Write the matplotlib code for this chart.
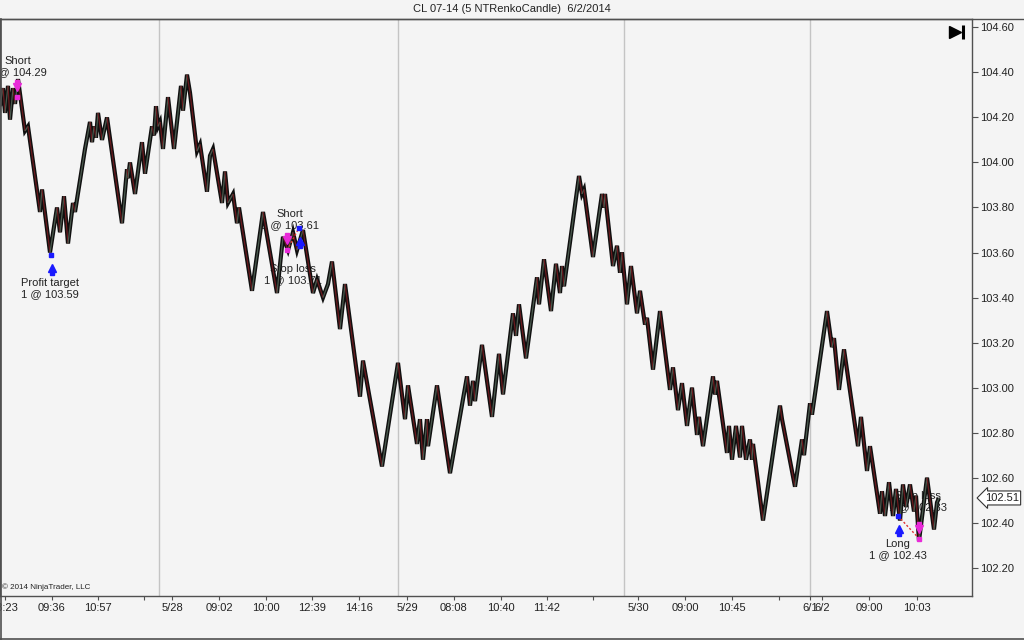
import numpy as np
import matplotlib
matplotlib.use("Agg")
import matplotlib.pyplot as plt
from matplotlib.collections import LineCollection
from matplotlib.lines import Line2D
import matplotlib.transforms as mtransforms

plt.rcParams['font.family'] = ['Liberation Sans', 'DejaVu Sans']

# renko swing points (bar index, price)
bars = [0, 3, 5, 8, 10, 13, 15, 18, 25, 28, 40, 42, 50, 57, 60, 64, 68, 73, 75, 85,
        90, 92, 94, 96, 98, 102, 107, 122, 127, 128, 130, 135, 142, 145, 152, 154, 156, 158, 160, 163,
        168, 174, 181, 183, 187, 190, 197, 200, 207, 210, 213, 222, 225, 228, 233, 237, 239, 252, 263, 277,
        283, 288, 293, 297, 303, 313, 317, 323, 328, 332, 340, 345, 360, 363, 382, 398, 405, 408, 417, 420,
        423, 427, 428, 437, 450, 467, 470, 473, 475, 482, 492, 499, 503, 513, 516, 519, 526, 537, 539, 544,
        551, 556, 560, 562, 564, 579, 582, 584, 593, 602, 604, 605, 613, 617, 620, 622, 627, 631, 637, 640,
        645, 647, 653, 660, 670, 673, 678, 682, 687, 692, 697, 699, 703, 713, 715, 717, 727, 729, 732, 736,
        740, 742, 746, 750, 752, 753, 763, 780, 782, 795, 802, 804, 810, 812, 827, 832, 834, 839, 844, 858,
        861, 867, 870, 880, 882, 885, 889, 893, 896, 900, 903, 906, 910, 914, 916, 919, 927, 934, 937, 939]
prices = [104.25, 104.33, 104.22, 104.34, 104.19, 104.33, 104.26, 104.37, 104.14, 104.16, 103.78, 103.88, 103.60, 103.80, 103.69, 103.85, 103.64, 103.82, 103.78, 104.06,
          104.18, 104.09, 104.16, 104.11, 104.22, 104.10, 104.20, 103.73, 103.97, 103.93, 104.00, 103.86, 104.09, 103.95, 104.16, 104.12, 104.25, 104.16, 104.18, 104.06,
          104.29, 104.06, 104.34, 104.23, 104.39, 104.31, 104.05, 104.08, 103.87, 104.03, 104.06, 103.82, 103.96, 103.82, 103.86, 103.73, 103.80, 103.43, 103.78, 103.42,
          103.67, 103.61, 103.69, 103.61, 103.70, 103.42, 103.48, 103.40, 103.46, 103.56, 103.26, 103.46, 102.96, 103.12, 102.65, 103.11, 102.86, 103.01, 102.75, 102.86,
          102.68, 102.86, 102.74, 103.01, 102.62, 103.05, 102.92, 103.03, 102.94, 103.19, 102.87, 103.15, 102.97, 103.33, 103.23, 103.37, 103.13, 103.49, 103.37, 103.57,
          103.34, 103.55, 103.42, 103.54, 103.45, 103.94, 103.86, 103.88, 103.58, 103.86, 103.80, 103.86, 103.54, 103.63, 103.51, 103.60, 103.37, 103.54, 103.33, 103.43,
          103.28, 103.31, 103.08, 103.34, 102.99, 103.09, 102.90, 103.02, 102.83, 103.00, 102.79, 102.87, 102.74, 103.05, 102.97, 103.03, 102.71, 102.83, 102.68, 102.83,
          102.69, 102.83, 102.68, 102.77, 102.68, 102.75, 102.41, 102.92, 102.86, 102.56, 102.77, 102.70, 102.93, 102.88, 103.34, 103.18, 103.22, 102.99, 103.17, 102.74,
          102.87, 102.63, 102.74, 102.44, 102.54, 102.43, 102.58, 102.43, 102.55, 102.41, 102.57, 102.47, 102.57, 102.45, 102.52, 102.32, 102.60, 102.37, 102.49, 102.51]

last_price = 102.51

# time axis labels
tick_bars = [5, 52, 98, 144, 172, 219, 266, 312, 359, 407, 454, 501, 547, 593, 638,
             685, 732, 779, 810, 822, 869, 917]
tick_labels = ["08:23", "09:36", "10:57", "", "5/28", "09:02", "10:00", "12:39", "14:16", "5/29",
               "08:08", "10:40", "11:42", "", "5/30", "09:00", "10:45", "", "6/1", "6/2", "09:00", "10:03"]
session_breaks = [159, 398, 624, 810]

price_ticks = [102.20, 102.40, 102.60, 102.80, 103.00, 103.20, 103.40, 103.60, 103.80, 104.00, 104.20, 104.40, 104.60]

# executions
exec_bars = [17, 51, 287, 299, 898, 919]
exec_prices = [104.29, 103.59, 103.61, 103.71, 102.43, 102.33]
exec_sides = ["sell", "buy", "sell", "buy", "buy", "sell"]
exec_labels = ["Short\n1 @ 104.29", "Profit target\n1 @ 103.59", "Short\n1 @ 103.61",
               "Stop loss\n1 @ 103.71", "Long\n1 @ 102.43", "Stop loss\n1 @ 102.33"]
label_offsets = [(1, 31), (-1, -34), (3, 31), (-6, -47), (0, -34), (-1, 37)]
losing_trades = [(2, 3), (4, 5)]

BG = '#f4f4f4'
TXT = '#222222'
FRAME = '#505050'

fig = plt.figure(figsize=(10.24, 6.4), dpi=100, facecolor=BG)
ax = fig.add_axes([0, 44.3 / 640, 972 / 1024, 576.7 / 640])
ax.set_facecolor(BG)
ax.set_xlim(0, 972)
ax.set_ylim(102.076, 104.637)

for s in ax.spines.values():
    s.set_color(FRAME)
    s.set_linewidth(1.0)

for xb in session_breaks:
    ax.axvline(xb, color='#c4c4c4', lw=1.0, zorder=1)

# renko path: black outline, dark coloured body
ax.plot(bars, prices, color='#101010', lw=3.0, solid_joinstyle='miter',
        solid_capstyle='butt', zorder=3)
pts = np.column_stack([bars, prices])
segs = np.stack([pts[:-1], pts[1:]], axis=1)
cols = ['#6a1a1e' if b[1] < a[1] else '#4a5a4e' for a, b in zip(pts[:-1], pts[1:])]
ax.add_collection(LineCollection(segs, colors=cols, linewidths=0.9, zorder=4,
                                 capstyle='butt'))

# trade connection lines
for i, j in losing_trades:
    ax.plot([exec_bars[i], exec_bars[j]], [exec_prices[i], exec_prices[j]],
            ls=(0, (1.5, 1.5)), color='#e03030', lw=1.0, zorder=5)

# execution markers
for xb, p, side, lab, (dx, dy) in zip(exec_bars, exec_prices, exec_sides, exec_labels, label_offsets):
    c = '#1a1aff' if side == "buy" else '#e82ad8'
    ax.plot(xb, p, marker='s', ms=3.5, color=c, mec=c, zorder=6)
    if side == "buy":
        tr = mtransforms.offset_copy(ax.transData, fig=fig, x=1, y=-13, units='dots')
        ax.plot(xb, p, marker='^', ms=6, color=c, transform=tr, zorder=6)
        tr2 = mtransforms.offset_copy(ax.transData, fig=fig, x=1, y=-18, units='dots')
        ax.plot(xb, p, marker='s', ms=2.5, color=c, transform=tr2, zorder=6)
    else:
        tr = mtransforms.offset_copy(ax.transData, fig=fig, x=0, y=10, units='dots')
        ax.plot(xb, p, marker='v', ms=6, color=c, transform=tr, zorder=6)
        tr2 = mtransforms.offset_copy(ax.transData, fig=fig, x=0, y=15, units='dots')
        ax.plot(xb, p, marker='s', ms=2.5, color=c, transform=tr2, zorder=6)
    ax.annotate(lab, (xb, p), xytext=(dx, dy), textcoords='offset pixels',
                ha='center', va='center', fontsize=8, color=TXT, zorder=2,
                linespacing=1.15, annotation_clip=False)

# axes ticks
ax.yaxis.tick_right()
ax.set_yticks(price_ticks)
ax.set_yticklabels([f"{v:.2f}" for v in price_ticks])
ax.tick_params(axis='y', direction='out', length=4, width=0.8, color=FRAME,
               labelsize=8, labelcolor=TXT, pad=2)
ax.set_xticks(tick_bars)
ax.set_xticklabels(tick_labels)
ax.tick_params(axis='x', direction='out', length=3, width=0.8, color=FRAME,
               labelsize=8, labelcolor=TXT, pad=2)

# last price box
blend = mtransforms.blended_transform_factory(ax.transAxes, ax.transData)
ax.text(1.013, last_price, f"{last_price:.2f}", transform=blend, ha='left', va='center',
        fontsize=8, color=TXT, zorder=7,
        bbox=dict(boxstyle='larrow,pad=0.18', fc='white', ec='#333333', lw=0.8))

# go-to-end icon
ax.plot([0.9825], [0.9775], marker='>', ms=8, color='black', transform=ax.transAxes,
        clip_on=False, zorder=7)
ax.plot([0.9905], [0.9775], marker='|', ms=10, mew=2.2, color='black',
        transform=ax.transAxes, clip_on=False, zorder=7)

ax.text(0.002, 0.008, "© 2014 NinjaTrader, LLC", transform=ax.transAxes,
        fontsize=5.8, color=TXT, ha='left', va='bottom')

fig.text(512 / 1024, 1 - 9 / 640, "CL 07-14 (5 NTRenkoCandle)  6/2/2014", ha='center',
         va='center', fontsize=8, color=TXT)

# outer frame
fig.add_artist(Line2D([0, 1], [1 - 19 / 640, 1 - 19 / 640], color=FRAME, lw=1.0))
fig.add_artist(Line2D([0.0005, 0.0005], [0, 1 - 19 / 640], color=FRAME, lw=1.2))
fig.add_artist(Line2D([0, 1], [1.5 / 640, 1.5 / 640], color=FRAME, lw=1.2))

fig.savefig("out.png", dpi=100, facecolor=BG)
